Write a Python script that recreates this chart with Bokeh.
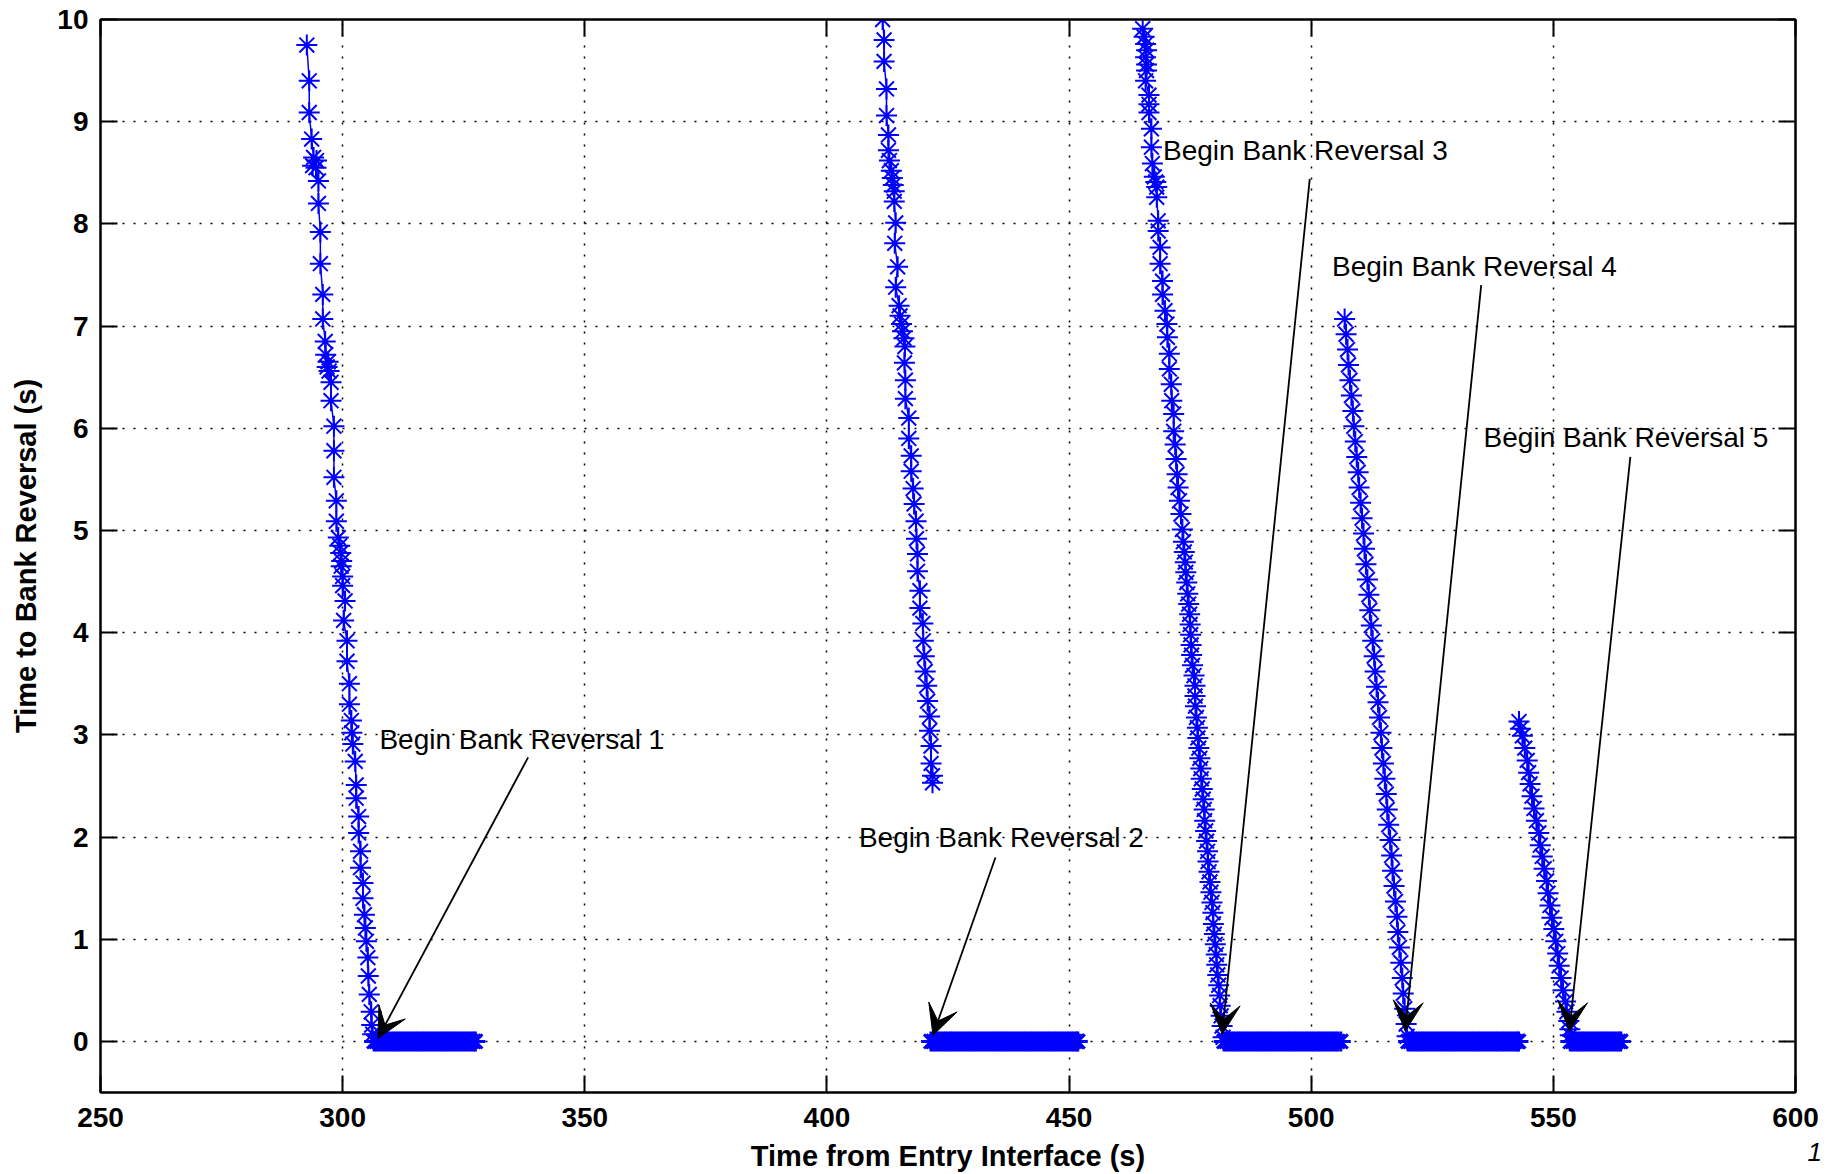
from bokeh.plotting import figure
from bokeh.models import Range1d, LinearAxis, FixedTicker, Label, Arrow, VeeHead
from bokeh.embed import file_html
from bokeh.resources import INLINE

# ---------------- data ----------------
x_ticks = [250, 300, 350, 400, 450, 500, 550, 600]
y_ticks = [0, 1, 2, 3, 4, 5, 6, 7, 8, 9, 10]

# descent toward each bank reversal: (time from entry interface, time to bank reversal)
rev1_descent = [(292.6, 9.75), (293.1, 9.40), (293.1, 9.09), (293.6, 8.83), (294.0, 8.65), (294.6, 8.62),
                (293.8, 8.57), (294.5, 8.55), (295.0, 8.42), (295.0, 8.20), (295.4, 7.92), (295.4, 7.61),
                (295.9, 7.31), (295.9, 7.07), (296.4, 6.85), (296.5, 6.72), (297.0, 6.65), (296.8, 6.60),
                (297.2, 6.56), (297.6, 6.45), (297.6, 6.27), (298.2, 6.02), (298.2, 5.78), (298.2, 5.52),
                (298.7, 5.29), (298.7, 5.09), (299.1, 4.93), (299.4, 4.85), (299.6, 4.78), (299.8, 4.70),
                (299.7, 4.65), (300.0, 4.55), (300.0, 4.46), (300.5, 4.31), (300.2, 4.12), (300.9, 3.92),
                (300.9, 3.72), (301.4, 3.50), (301.4, 3.30), (301.8, 3.14), (301.9, 3.02), (302.1, 2.91),
                (302.6, 2.74), (302.8, 2.51), (302.8, 2.38), (303.3, 2.20), (303.3, 2.04), (303.7, 1.86),
                (303.7, 1.70), (304.2, 1.55), (304.2, 1.40), (304.5, 1.24), (304.7, 1.11), (304.9, 0.98),
                (305.2, 0.82), (305.3, 0.64), (305.5, 0.46), (305.9, 0.29), (306.0, 0.16), (306.2, 0.07)]

rev2_descent = [(411.5, 10.0), (411.8, 9.80), (411.8, 9.59), (412.3, 9.32), (412.3, 9.06), (412.7, 8.87),
                (412.7, 8.72), (412.9, 8.62), (413.3, 8.52), (413.5, 8.45), (413.7, 8.38), (413.9, 8.32),
                (413.9, 8.22), (414.2, 8.01), (414.0, 7.81), (414.6, 7.58), (414.2, 7.38), (414.9, 7.20),
                (415.1, 7.10), (415.4, 7.02), (415.6, 6.95), (415.9, 6.88), (416.1, 6.80), (416.0, 6.64),
                (416.2, 6.47), (416.2, 6.29), (416.9, 6.10), (416.9, 5.90), (417.4, 5.73), (417.4, 5.58),
                (417.8, 5.41), (418.0, 5.26), (418.4, 5.09), (418.5, 4.92), (418.7, 4.77), (418.7, 4.60),
                (419.2, 4.41), (419.2, 4.24), (419.8, 4.09), (419.9, 3.92), (420.1, 3.77), (420.3, 3.62),
                (420.6, 3.48), (420.8, 3.33), (421.2, 3.18), (421.2, 3.04), (421.5, 2.89), (421.5, 2.72),
                (421.8, 2.60), (421.8, 2.53)]

rev3_descent = [(465.2, 9.91), (465.5, 9.83), (465.8, 9.76), (466.0, 9.70), (465.8, 9.63), (466.0, 9.56),
                (466.0, 9.50), (465.8, 9.40), (466.5, 9.26), (466.5, 9.17), (466.5, 9.09), (467.0, 8.93),
                (467.0, 8.75), (467.2, 8.59), (467.6, 8.46), (467.9, 8.41), (468.1, 8.36), (468.1, 8.26),
                (468.4, 8.03), (468.4, 7.93), (468.8, 7.77), (468.8, 7.61), (469.3, 7.44), (469.3, 7.31),
                (469.8, 7.15), (470.2, 7.02), (470.3, 6.89), (470.7, 6.73), (470.7, 6.58), (471.1, 6.43),
                (471.2, 6.27), (471.6, 6.14), (471.6, 5.97), (471.9, 5.84), (472.1, 5.70), (472.3, 5.55),
                (472.5, 5.42), (472.8, 5.29), (473.1, 5.16), (473.4, 5.01), (473.6, 4.89), (473.8, 4.79),
                (474.0, 4.69), (474.1, 4.59), (474.3, 4.49), (474.5, 4.38), (474.7, 4.28), (474.9, 4.18),
                (475.0, 4.08), (475.1, 3.98), (475.2, 3.88), (475.3, 3.78), (475.5, 3.68), (475.8, 3.58),
                (476.0, 3.48), (476.0, 3.38), (476.1, 3.28), (476.3, 3.17), (476.5, 3.07), (476.6, 2.97),
                (476.8, 2.87), (477.0, 2.77), (477.2, 2.67), (477.3, 2.57), (477.5, 2.47), (477.7, 2.37),
                (477.9, 2.27), (478.0, 2.16), (478.2, 2.06), (478.4, 1.96), (478.6, 1.86), (478.7, 1.76),
                (478.9, 1.66), (479.1, 1.56), (479.3, 1.46), (479.5, 1.36), (479.7, 1.26), (479.8, 1.15),
                (480.0, 1.05), (480.2, 0.95), (480.4, 0.85), (480.5, 0.75), (480.7, 0.65), (480.9, 0.55),
                (481.1, 0.45), (481.2, 0.35), (481.4, 0.25), (481.6, 0.15), (481.8, 0.04)]

rev4_descent = [(506.9, 7.07), (507.2, 6.92), (507.5, 6.77), (507.7, 6.62), (508.0, 6.47), (508.3, 6.32),
                (508.6, 6.17), (508.8, 6.02), (509.1, 5.87), (509.4, 5.72), (509.7, 5.57), (509.9, 5.42),
                (510.2, 5.27), (510.5, 5.12), (510.8, 4.97), (511.0, 4.82), (511.3, 4.67), (511.6, 4.52),
                (511.9, 4.37), (512.1, 4.22), (512.4, 4.07), (512.7, 3.92), (513.0, 3.77), (513.2, 3.62),
                (513.5, 3.47), (513.8, 3.32), (514.1, 3.17), (514.4, 3.02), (514.6, 2.87), (514.9, 2.72),
                (515.2, 2.57), (515.5, 2.42), (515.7, 2.27), (516.0, 2.12), (516.3, 1.97), (516.6, 1.82),
                (516.8, 1.67), (517.1, 1.52), (517.4, 1.37), (517.7, 1.22), (517.9, 1.07), (518.2, 0.92),
                (518.5, 0.77), (518.8, 0.62), (519.0, 0.47), (519.3, 0.32), (519.6, 0.17), (519.8, 0.05)]

rev5_descent = [(542.9, 3.13), (543.2, 3.06), (543.6, 2.99), (544.1, 2.87), (544.6, 2.75), (544.9, 2.63),
                (545.2, 2.52), (545.6, 2.40), (546.0, 2.28), (546.5, 2.16), (547.0, 2.04), (547.3, 1.92),
                (547.7, 1.81), (548.1, 1.69), (548.6, 1.57), (548.9, 1.45), (549.3, 1.33), (549.7, 1.21),
                (550.1, 1.10), (550.5, 0.98), (550.9, 0.86), (551.2, 0.74), (551.6, 0.62), (552.0, 0.50),
                (552.5, 0.39), (552.8, 0.29), (553.2, 0.20), (553.4, 0.12), (553.5, 0.06)]

# time spent in each bank reversal (time to reversal = 0)
rev1_hold = [306.5, 307.0, 307.5, 308.0, 308.5, 309.0, 309.5, 310.0, 310.5, 311.0, 311.5, 312.0,
             312.5, 313.0, 313.5, 314.0, 314.5, 315.0, 315.5, 316.0, 316.5, 317.0, 317.5, 318.0,
             318.5, 319.0, 319.5, 320.0, 320.5, 321.0, 321.5, 322.0, 322.5, 323.0, 323.5, 324.0,
             324.5, 325.0, 325.5, 326.0, 326.5, 327.0, 327.4]
rev2_hold = [421.5, 422.0, 422.5, 423.0, 423.5, 424.0, 424.5, 425.0, 425.5, 426.0, 426.5, 427.0,
             427.5, 428.0, 428.5, 429.0, 429.5, 430.0, 430.5, 431.0, 431.5, 432.0, 432.5, 433.0,
             433.5, 434.0, 434.5, 435.0, 435.5, 436.0, 436.5, 437.0, 437.5, 438.0, 438.5, 439.0,
             439.5, 440.0, 440.5, 441.0, 441.5, 442.0, 442.5, 443.0, 443.5, 444.0, 444.5, 445.0,
             445.5, 446.0, 446.5, 447.0, 447.5, 448.0, 448.5, 449.0, 449.5, 450.0, 450.5, 451.0,
             451.5, 451.8]
rev3_hold = [482.0, 482.5, 483.0, 483.5, 484.0, 484.5, 485.0, 485.5, 486.0, 486.5, 487.0, 487.5,
             488.0, 488.5, 489.0, 489.5, 490.0, 490.5, 491.0, 491.5, 492.0, 492.5, 493.0, 493.5,
             494.0, 494.5, 495.0, 495.5, 496.0, 496.5, 497.0, 497.5, 498.0, 498.5, 499.0, 499.5,
             500.0, 500.5, 501.0, 501.5, 502.0, 502.5, 503.0, 503.5, 504.0, 504.5, 505.0, 505.5,
             506.1]
rev4_hold = [520.0, 520.5, 521.0, 521.5, 522.0, 522.5, 523.0, 523.5, 524.0, 524.5, 525.0, 525.5,
             526.0, 526.5, 527.0, 527.5, 528.0, 528.5, 529.0, 529.5, 530.0, 530.5, 531.0, 531.5,
             532.0, 532.5, 533.0, 533.5, 534.0, 534.5, 535.0, 535.5, 536.0, 536.5, 537.0, 537.5,
             538.0, 538.5, 539.0, 539.5, 540.0, 540.5, 541.0, 541.5, 542.0, 542.5, 542.8]
rev5_hold = [553.5, 554.0, 554.5, 555.0, 555.5, 556.0, 556.5, 557.0, 557.5, 558.0, 558.5, 559.0,
             559.5, 560.0, 560.5, 561.0, 561.5, 562.0, 562.5, 563.0, 563.5, 563.9]
hold_level = 0.0

# annotations: label text, label anchor (x, y), arrow tail (x, y), arrow tip (x, y)
ann_text = ["Begin Bank Reversal 1", "Begin Bank Reversal 2", "Begin Bank Reversal 3",
            "Begin Bank Reversal 4", "Begin Bank Reversal 5"]
ann_label_xy = [(307.6, 2.95), (406.6, 2.00), (469.4, 8.72), (504.3, 7.58), (535.6, 5.91)]
ann_tail_xy = [(338.3, 2.78), (434.8, 1.80), (499.7, 8.44), (535.1, 7.40), (565.9, 5.72)]
ann_tip_xy = [(307.3, 0.03), (421.9, 0.06), (481.6, 0.07), (519.4, 0.10), (553.3, 0.10)]

corner_text = "1"

# ---------------- figure ----------------
TICK_FONT = "Liberation Sans"
LABEL_FONT = "Liberation Sans"

p = figure(width=1828, height=1174, output_backend="svg", toolbar_location=None,
           x_range=Range1d(250, 600), y_range=Range1d(-0.5, 10),
           min_border_left=100, min_border_right=33, min_border_top=19, min_border_bottom=82,
           background_fill_color="white", border_fill_color="white")
p.outline_line_color = "black"
p.outline_line_width = 2

for ax in (p.xaxis[0], p.yaxis[0]):
    ax.major_tick_in = 17
    ax.major_tick_out = 0
    ax.minor_tick_in = 0
    ax.minor_tick_out = 0
    ax.axis_line_width = 2
    ax.major_tick_line_width = 2
    ax.major_label_text_font = TICK_FONT
    ax.major_label_text_font_style = "bold"
    ax.major_label_text_font_size = "28px"
    ax.major_label_text_color = "black"
    ax.axis_label_text_font = LABEL_FONT
    ax.axis_label_text_font_style = "bold"
    ax.axis_label_text_font_size = "29px"
    ax.axis_label_text_color = "black"

p.xaxis.ticker = FixedTicker(ticks=x_ticks)
p.yaxis.ticker = FixedTicker(ticks=y_ticks)
p.xaxis.axis_label = "Time from Entry Interface (s)"
p.yaxis.axis_label = "Time to Bank Reversal (s)"
p.xaxis.major_label_standoff = 15
p.yaxis.major_label_standoff = 12
p.xaxis.axis_label_standoff = 10
p.yaxis.axis_label_standoff = 12

for side in ("above", "right"):
    ax = LinearAxis(ticker=FixedTicker(ticks=x_ticks if side == "above" else y_ticks),
                    major_tick_in=17, major_tick_out=0, minor_tick_in=0, minor_tick_out=0,
                    axis_line_width=2, major_tick_line_width=2,
                    major_label_text_color=None, major_label_standoff=0)
    p.add_layout(ax, side)

p.grid.grid_line_color = "black"
p.grid.grid_line_dash = "2 9"
p.grid.grid_line_width = 1.5
p.xgrid.ticker = FixedTicker(ticks=x_ticks)
p.ygrid.ticker = FixedTicker(ticks=y_ticks)

BLUE = "#0000ff"
for descent in (rev1_descent, rev2_descent, rev3_descent, rev4_descent, rev5_descent):
    xs = [pt[0] for pt in descent]
    ys = [pt[1] for pt in descent]
    p.line(xs, ys, line_color=BLUE, line_width=1.5)
    p.scatter(xs, ys, marker="asterisk", size=21, line_color=BLUE, line_width=2)

for hold in (rev1_hold, rev2_hold, rev3_hold, rev4_hold, rev5_hold):
    ys = [hold_level for _ in hold]
    p.line(hold, ys, line_color=BLUE, line_width=1.5)
    p.scatter(hold, ys, marker="asterisk", size=20, line_color=BLUE, line_width=3)

for txt, (lx, ly), (tx, ty), (hx, hy) in zip(ann_text, ann_label_xy, ann_tail_xy, ann_tip_xy):
    p.add_layout(Arrow(end=VeeHead(size=30, fill_color="black", line_color="black"),
                       x_start=tx, y_start=ty, x_end=hx, y_end=hy,
                       line_color="black", line_width=1.8))
    p.add_layout(Label(x=lx, y=ly, text=txt, text_font=LABEL_FONT, text_font_size="28px",
                       text_baseline="middle", text_align="left", text_color="black"))

# small italic "1" in the bottom-right corner, placed in the right side panel (not clipped)
p.add_layout(Label(x=12, y=-50, x_units="screen", y_units="screen", text=corner_text,
                   text_font=LABEL_FONT, text_font_size="26px", text_font_style="italic",
                   text_baseline="top", text_align="left", text_color="black"), "right")

open("out.html", "w").write(file_html(p, INLINE))
